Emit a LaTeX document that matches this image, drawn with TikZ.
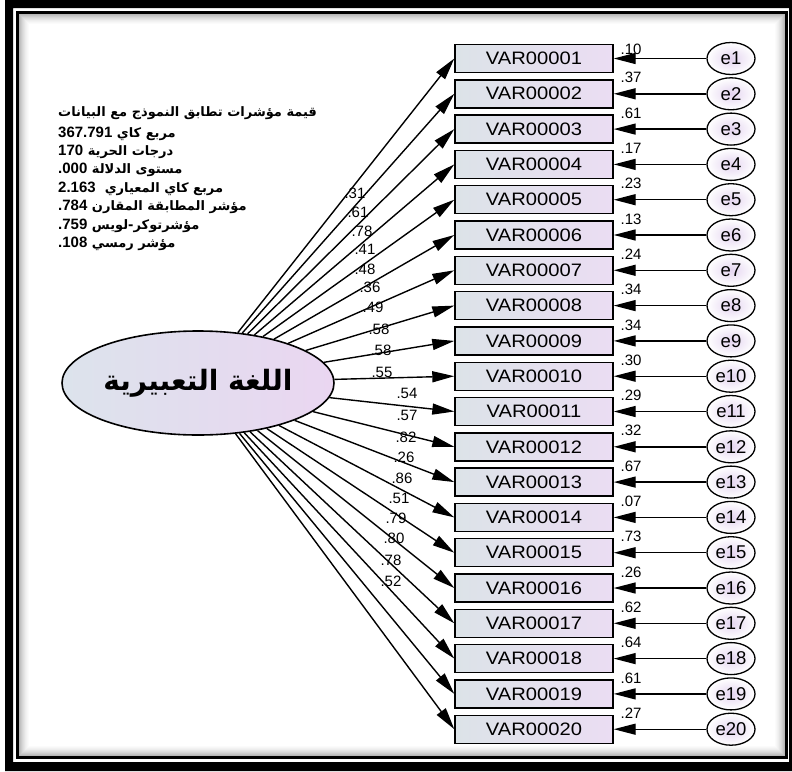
\documentclass[tikz,border=0pt]{standalone}
\usepackage{fontspec}
\usepackage{graphicx}
\setmainfont{Liberation Sans}
\newfontfamily\arabicfont[Script=Arabic]{DejaVu Sans}
\TeXXeTstate=1
\usetikzlibrary{shapes.geometric,arrows.meta}
\definecolor{boxL}{HTML}{DCE3E8}
\definecolor{boxR}{HTML}{EBDDF3}
\definecolor{latL}{HTML}{DCE3EC}
\definecolor{latR}{HTML}{EAD6F1}
\definecolor{errC}{HTML}{E4D4F0}
\newcommand{\statnum}[1]{\beginL{\rmfamily\bfseries\fontsize{15}{16}\selectfont #1}\endL{}}
\begin{document}
\begin{tikzpicture}[x=1pt,y=-1pt,
  varbox/.style={draw, line width=1.4pt, minimum width=158pt, minimum height=28pt, inner sep=0pt,
    left color=boxL, right color=boxR, font=\fontsize{18}{20}\selectfont},
  errell/.style={ellipse, draw, line width=1.3pt, minimum width=48pt, minimum height=32pt, inner sep=0pt,
    inner color=errC, outer color=white, font=\fontsize{18.5}{20}\selectfont},
  latent/.style={ellipse, draw, line width=1.6pt, minimum width=272pt, minimum height=104pt, inner sep=0pt,
    left color=latL, right color=latR},
  pathline/.style={line width=1.4pt, -{Triangle[length=22pt,width=11pt]}},
  coef/.style={font=\fontsize{15}{17}\selectfont, inner sep=0pt},
  stat/.style={anchor=west, inner sep=0pt, font=\arabicfont\bfseries\fontsize{13}{15}\selectfont}
]
\useasboundingbox (0,0) rectangle (792,771);
% frame
\fill[black, even odd rule] (5,0) rectangle (792,771) (13,8) rectangle (789,762);
\draw[line width=3pt] (17.5,12.5) rectangle (786.5,757.5);
\foreach \k/\o in {1/0.28,2/0.24,3/0.20,4/0.16,5/0.13,6/0.10,7/0.07,8/0.05,9/0.03,10/0.015}{
  \draw[black, line width=1pt, opacity=\o] (19+\k-0.5,14+\k-0.5) rectangle (785-\k+0.5,756-\k+0.5);
}
% latent
\node[latent] (L) at (198,383) {\arabicfont\bfseries\fontsize{28}{32}\selectfont\beginR اللغة التعبيرية\endR};
% observed and errors
\foreach \i/\ev in {1/.10,2/.37,3/.61,4/.17,5/.23,6/.13,7/.24,8/.34,9/.34,10/.30,11/.29,12/.32,13/.67,14/.07,15/.73,16/.26,17/.62,18/.64,19/.61,20/.27}{
  \pgfmathsetmacro\yy{58.5+(\i-1)*35.3}
  \node[varbox] (v\i) at (534,\yy) {\scalebox{1.12}[1]{VAR000\ifnum\i<10 0\fi\i}};
  \node[errell] (e\i) at (731,\yy) {e\i};
  \draw[pathline] (e\i) -- (v\i.east);
  \pgfmathsetmacro\ly{\yy-(\i==1 ? 9 : 16)}
  \node[coef] (r\i) at (631,\ly) {\ev};
  \draw[pathline] (L) -- (v\i.west);
}
% loadings
\foreach \i/\val/\x/\y in {1/.31/355/193,2/.61/358/212,3/.78/362/231,4/.41/365/249,5/.48/365/269,
  6/.36/370/287,7/.49/373/307,8/.58/379/329,9/.58/381/350,10/.55/382/372,11/.54/407/393,
  12/.57/407/415,13/.82/406/437,14/.26/404/457,15/.86/402/478,16/.51/399/498,17/.79/396/518,
  18/.80/394/538,19/.78/391/560,20/.52/391/581}{
  \node[coef] (w\i) at (\x,\y) {\val};
}
% fit statistics
\node[stat] (t1) at (58,113) {\beginR قيمة مؤشرات تطابق النموذج مع البيانات\endR};
\node[stat] (t2) at (58,134) {\beginR مربع كاي \statnum{367.791}\endR};
\node[stat] (t3) at (58,152) {\beginR درجات الحرية \statnum{170}\endR};
\node[stat] (t4) at (58,170) {\beginR مستوى الدلالة \statnum{.000}\endR};
\node[stat] (t5) at (58,189) {\beginR مربع كاي المعياري\ \ \statnum{2.163}\endR};
\node[stat] (t6) at (58,207) {\beginR مؤشر المطابقة المقارن \statnum{.784}\endR};
\node[stat] (t7) at (58,226) {\beginR مؤشرتوكر-لويس \statnum{.759}\endR};
\node[stat] (t8) at (58,244) {\beginR مؤشر رمسي \statnum{.108}\endR};
\end{tikzpicture}
\end{document}
